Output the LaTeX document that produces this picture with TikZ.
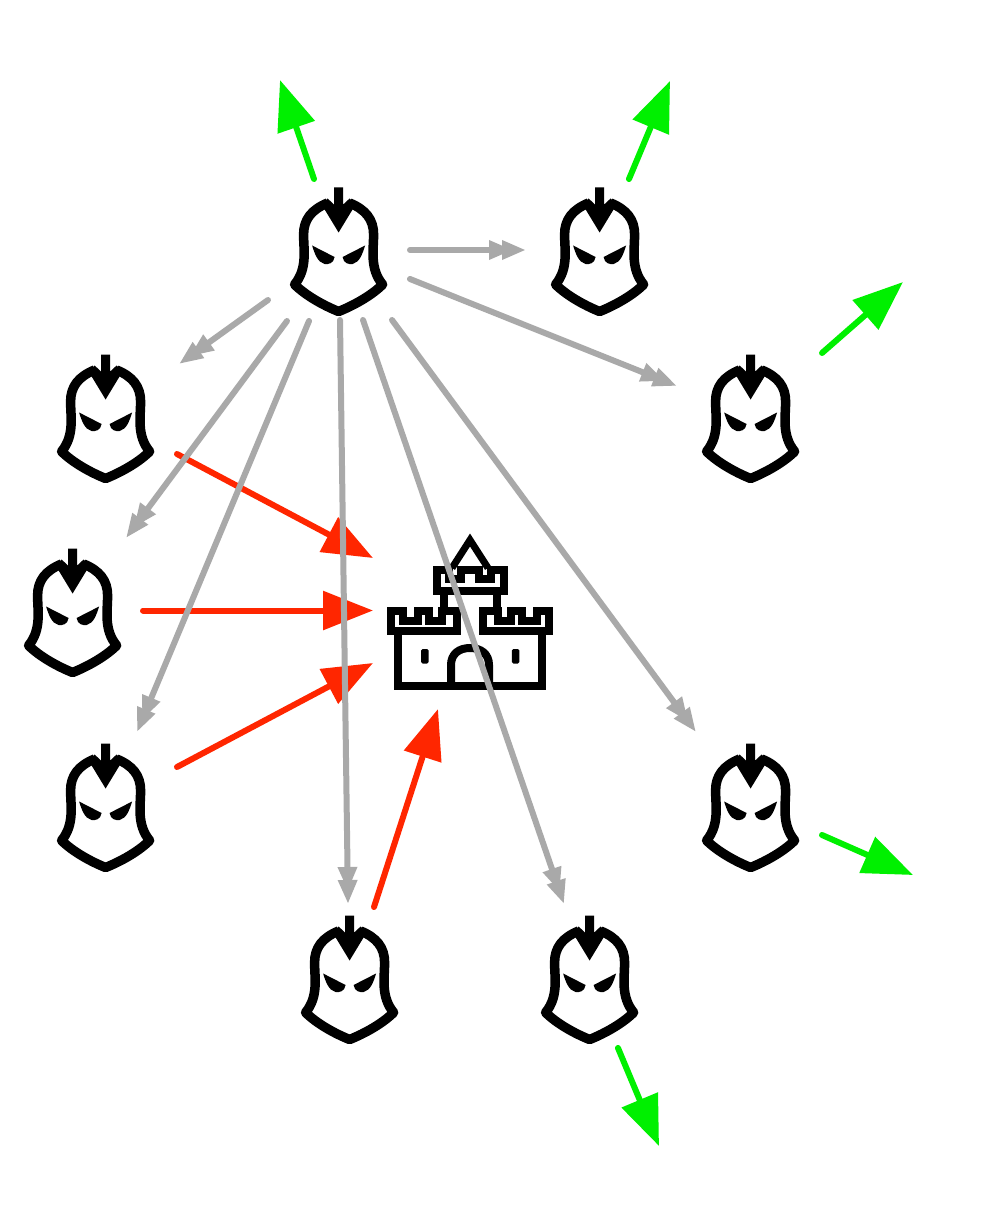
\documentclass[tikz,border=0pt]{standalone}
\usetikzlibrary{arrows.meta}
\definecolor{grayarrow}{HTML}{A9A9A9}
\definecolor{greenarrow}{HTML}{00F000}
\definecolor{redarrow}{HTML}{FF2600}
\tikzset{
  x=1pt,y=-1pt,
  graylink/.style={draw=grayarrow,line width=6pt,line cap=round,
    -{Triangle[length=24pt,width=18pt,sep=-11pt]Triangle[length=24pt,width=18pt]}},
  greenlink/.style={draw=greenarrow,line width=6pt,line cap=round,
    -{Triangle[length=50pt,width=38pt]}},
  redlink/.style={draw=redarrow,line width=6pt,line cap=round,
    -{Triangle[length=50pt,width=38pt]}},
  castleline/.style={draw=black,line width=8pt,line join=miter,miter limit=10},
  helmetline/.style={draw=black,line width=9.5pt,line join=round},
  helmet/.pic={
    \draw[helmetline] (-11,15.5) .. controls (-27,22) and (-35,32) .. (-35,47)
      .. controls (-35,63) and (-31,81) .. (-44,97)
      .. controls (-33,108) and (-15,118) .. (0,124)
      .. controls (15,118) and (33,108) .. (44,97)
      .. controls (31,81) and (35,63) .. (35,47)
      .. controls (35,32) and (27,22) .. (11,15.5);
    \fill[black] (-4.6,0) -- (4.6,0) -- (4.6,17) -- (11,11) -- (17,17) -- (0,45)
      -- (-17,17) -- (-11,11) -- (-4.6,17) -- cycle;
    \fill[black] (-26.5,58) -- (-4,69.5)
      .. controls (-5,76) and (-10,77) .. (-14,76.5)
      .. controls (-21,75) and (-24,66) .. (-26.5,58) -- cycle;
    \fill[black] (26.5,58) -- (4,69.5)
      .. controls (5,76) and (10,77) .. (14,76.5)
      .. controls (21,75) and (24,66) .. (26.5,58) -- cycle;
  }
}
\begin{document}
\begin{tikzpicture}
\useasboundingbox (0,0) rectangle (988,1222);
\fill[white] (0,0) rectangle (988,1222);

% helmets
\foreach \nm/\hx/\hy in {h1/338.6/187.5,h2/599.6/187.5,h3/105.6/354.5,h4/750.6/354.5,h5/72.6/548.5,h6/105.6/743.5,h7/750.6/743.5,h8/349.6/915.5,h9/589.6/915.5}
  \pic (\nm) at (\hx,\hy) {helmet};

% castle
\begin{scope}[local bounding box=castle]
  % lower walls
  \draw[castleline] (398,632) -- (398,686) -- (542,686) -- (542,632);
  % door
  \draw[castleline] (451,686) -- (451,665) .. controls (451,654) and (459,648) .. (470,648)
     .. controls (481,648) and (489,654) .. (489,665) -- (489,686);
  % windows
  \fill[black,rounded corners=1.5pt] (421,649) rectangle (428.5,663.5);
  \fill[black,rounded corners=1.5pt] (511.8,649) rectangle (519.3,663.5);
  % left battlement
  \draw[castleline] (391,631) -- (391,611) -- (403,611) -- (403,621)
     -- (418,621) -- (418,611) -- (429,611) -- (429,621) -- (442,621)
     -- (442,611) -- (457,611) -- (457,631) -- cycle;
  % right battlement
  \draw[castleline] (549,631) -- (549,611) -- (537,611) -- (537,621)
     -- (522,621) -- (522,611) -- (511,611) -- (511,621) -- (498,621)
     -- (498,611) -- (483,611) -- (483,631) -- cycle;
  % neck
  \draw[castleline] (443.5,592) -- (443.5,610);
  \draw[castleline] (496.7,592) -- (496.7,610);
  % top tower
  \draw[castleline] (436.5,591) -- (436.5,569.5) -- (449,569.5) -- (449,579) -- (461,579)
     -- (461,569.5) -- (479,569.5) -- (479,579) -- (491,579) -- (491,569.5)
     -- (503.5,569.5) -- (503.5,591) -- cycle;
  % roof
  \draw[castleline,line width=7pt] (452,568) -- (470,540) -- (488,568);
\end{scope}

% connector ends
\coordinate (r1s) at (177,454);  \coordinate (r1e) at (373,558);
\coordinate (r2s) at (143,610.5);  \coordinate (r2e) at (373,610.5);
\coordinate (r3s) at (177,767);  \coordinate (r3e) at (373,663);
\coordinate (r4s) at (374,907);  \coordinate (r4e) at (438,709);

\coordinate (g1s) at (314,179);  \coordinate (g1e) at (280,80);
\coordinate (g2s) at (629,179);  \coordinate (g2e) at (670,81);
\coordinate (g3s) at (822,353);  \coordinate (g3e) at (903,282);
\coordinate (g4s) at (822,835);  \coordinate (g4e) at (913,875);
\coordinate (g5s) at (618,1048); \coordinate (g5e) at (659,1146);

\coordinate (k1s) at (410,250);  \coordinate (k1e) at (526,250);
\coordinate (k2s) at (410,279);  \coordinate (k2e) at (677,386);
\coordinate (k3s) at (268,300);  \coordinate (k3e) at (179,364);
\coordinate (k4s) at (287,321);  \coordinate (k4e) at (126,538);
\coordinate (k5s) at (309,321);  \coordinate (k5e) at (137,732);
\coordinate (k6s) at (340,320);  \coordinate (k6e) at (348,904);
\coordinate (k7s) at (363,320);  \coordinate (k7e) at (564,904);
\coordinate (k8s) at (392,320);  \coordinate (k8e) at (696,732);

% red attacks
\foreach \n in {1,2,3,4} \draw[redlink] (r\n s) -- (r\n e);
% green retreats
\foreach \n in {1,2,3,4,5} \draw[greenlink] (g\n s) -- (g\n e);
% grey messages
\foreach \n in {1,...,8} \draw[graylink] (k\n s) -- (k\n e);
\end{tikzpicture}
\end{document}
